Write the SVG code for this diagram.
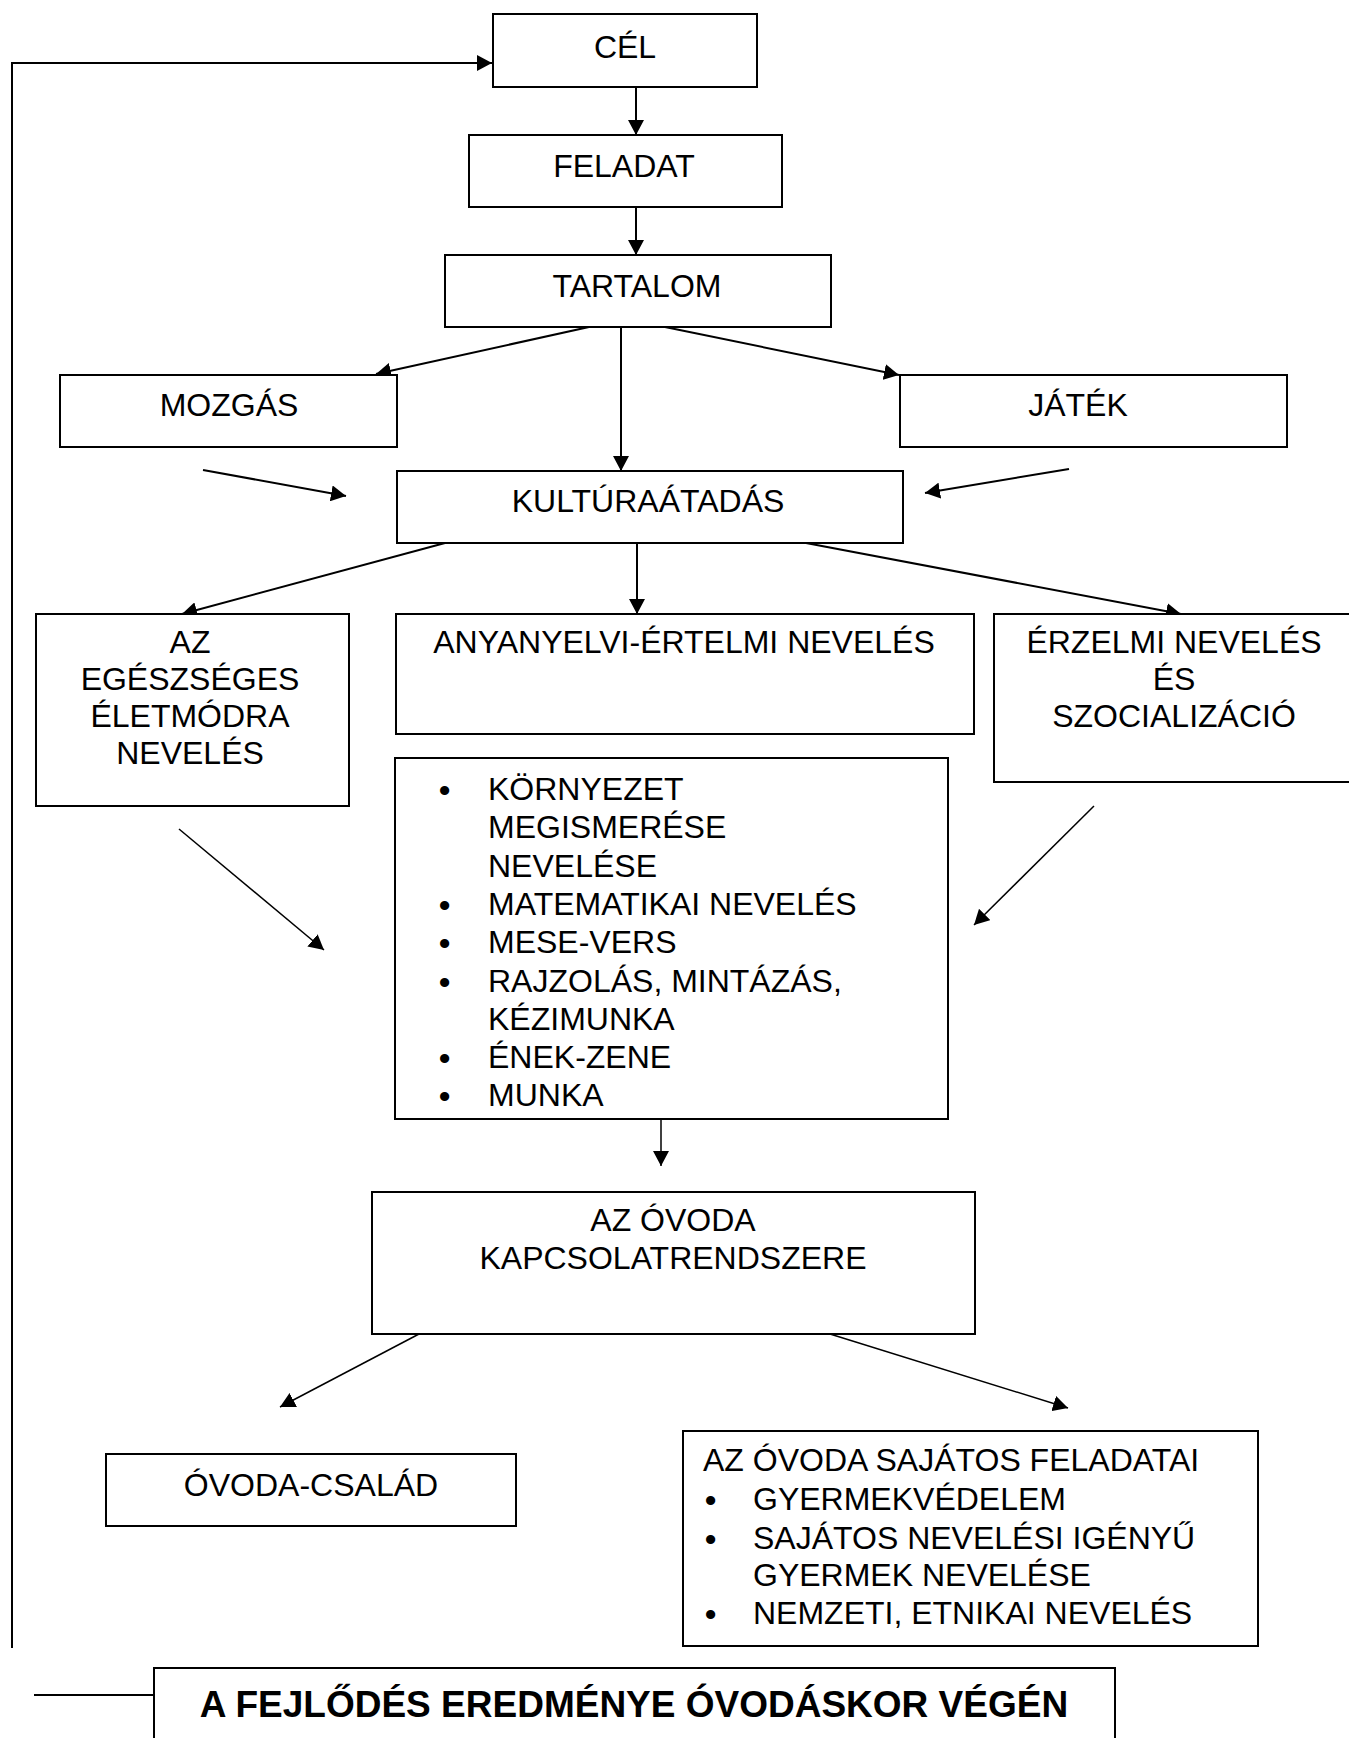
<svg xmlns="http://www.w3.org/2000/svg" width="1349" height="1738" viewBox="0 0 1349 1738">
<style>
.box{fill:#fff;stroke:#000;stroke-width:2}
.t{font-family:"Liberation Sans",Arial,sans-serif;font-size:32px;fill:#000}
.c{text-anchor:middle}
.b{font-weight:bold;font-size:37px}
.bul{font-weight:bold}
.ln{fill:none;stroke:#000;stroke-width:2}
.thin{stroke-width:1.5}
</style>
<defs>
<marker id="ah" markerUnits="userSpaceOnUse" markerWidth="16" markerHeight="16" refX="15" refY="8" orient="auto">
<path d="M0,0 L15,8 L0,16 Z" fill="#000"/>
</marker>
</defs>
<rect width="1349" height="1738" fill="#fff"/>

<g id="connectors">
<polyline class="ln" points="12,1648 12,63 492,63" marker-end="url(#ah)"/>
<line class="ln" x1="636" y1="87" x2="636" y2="135" marker-end="url(#ah)"/>
<line class="ln" x1="636" y1="207" x2="636" y2="255" marker-end="url(#ah)"/>
<line class="ln" x1="589" y1="327" x2="376" y2="374" marker-end="url(#ah)"/>
<line class="ln" x1="621" y1="327" x2="621" y2="471" marker-end="url(#ah)"/>
<line class="ln" x1="665" y1="327" x2="899" y2="375" marker-end="url(#ah)"/>
<line class="ln" x1="203" y1="470" x2="346" y2="496" marker-end="url(#ah)"/>
<line class="ln" x1="1069" y1="469" x2="925" y2="493" marker-end="url(#ah)"/>
<line class="ln" x1="445" y1="543" x2="182" y2="614" marker-end="url(#ah)"/>
<line class="ln" x1="637" y1="543" x2="637" y2="614" marker-end="url(#ah)"/>
<line class="ln" x1="806" y1="543" x2="1181" y2="614" marker-end="url(#ah)"/>
<line class="ln thin" x1="637" y1="712" x2="637" y2="734" marker-end="url(#ah)"/>
<line class="ln thin" x1="179" y1="829" x2="324" y2="950" marker-end="url(#ah)"/>
<line class="ln thin" x1="1094" y1="806" x2="974" y2="925" marker-end="url(#ah)"/>
<line class="ln thin" x1="661" y1="1119" x2="661" y2="1166" marker-end="url(#ah)"/>
<line class="ln thin" x1="419" y1="1334" x2="280" y2="1407" marker-end="url(#ah)"/>
<line class="ln thin" x1="830" y1="1334" x2="1068" y2="1408" marker-end="url(#ah)"/>
<line class="ln" x1="34" y1="1695" x2="154" y2="1695"/>
</g>

<g id="cel">
<rect class="box" x="493" y="14" width="264" height="73"/>
<text class="t c" x="625" y="58">CÉL</text>
</g>
<g id="feladat">
<rect class="box" x="469" y="135" width="313" height="72"/>
<text class="t c" x="624" y="177">FELADAT</text>
</g>
<g id="tartalom">
<rect class="box" x="445" y="255" width="386" height="72"/>
<text class="t c" x="637" y="297">TARTALOM</text>
</g>
<g id="mozgas">
<rect class="box" x="60" y="375" width="337" height="72"/>
<text class="t c" x="229" y="416">MOZGÁS</text>
</g>
<g id="jatek">
<rect class="box" x="900" y="375" width="387" height="72"/>
<text class="t c" x="1078" y="416">JÁTÉK</text>
</g>
<g id="kulturaatadas">
<rect class="box" x="397" y="471" width="506" height="72"/>
<text class="t c" x="648" y="512">KULTÚRAÁTADÁS</text>
</g>
<g id="egeszseges">
<rect class="box" x="36" y="614" width="313" height="192"/>
<text class="t c" x="190" y="653">AZ</text>
<text class="t c" x="190" y="690">EGÉSZSÉGES</text>
<text class="t c" x="190" y="727">ÉLETMÓDRA</text>
<text class="t c" x="190" y="764">NEVELÉS</text>
</g>
<g id="anyanyelvi">
<rect class="box" x="396" y="614" width="578" height="120"/>
<text class="t c" x="684" y="653">ANYANYELVI-ÉRTELMI NEVELÉS</text>
</g>
<g id="erzelmi">
<rect class="box" x="994" y="614" width="370" height="168"/>
<text class="t c" x="1174" y="653">ÉRZELMI NEVELÉS</text>
<text class="t c" x="1174" y="690">ÉS</text>
<text class="t c" x="1174" y="727">SZOCIALIZÁCIÓ</text>
</g>
<g id="teruletek">
<rect class="box" x="395" y="758" width="553" height="361"/>
<g class="t">
<text class="bul" x="439" y="801">•</text><text x="488" y="800">KÖRNYEZET</text>
<text x="488" y="838">MEGISMERÉSE</text>
<text x="488" y="877">NEVELÉSE</text>
<text class="bul" x="439" y="916">•</text><text x="488" y="915">MATEMATIKAI NEVELÉS</text>
<text class="bul" x="439" y="954">•</text><text x="488" y="953">MESE-VERS</text>
<text class="bul" x="439" y="993">•</text><text x="488" y="992">RAJZOLÁS, MINTÁZÁS,</text>
<text x="488" y="1030">KÉZIMUNKA</text>
<text class="bul" x="439" y="1069">•</text><text x="488" y="1068">ÉNEK-ZENE</text>
<text class="bul" x="439" y="1107">•</text><text x="488" y="1106">MUNKA</text>
</g>
</g>
<g id="kapcsolatrendszer">
<rect class="box" x="372" y="1192" width="603" height="142"/>
<text class="t c" x="673" y="1231">AZ ÓVODA</text>
<text class="t c" x="673" y="1269">KAPCSOLATRENDSZERE</text>
</g>
<g id="ovoda-csalad">
<rect class="box" x="106" y="1454" width="410" height="72"/>
<text class="t c" x="311" y="1496">ÓVODA-CSALÁD</text>
</g>
<g id="sajatos">
<rect class="box" x="683" y="1431" width="575" height="215"/>
<g class="t">
<text x="703" y="1471">AZ ÓVODA SAJÁTOS FELADATAI</text>
<text class="bul" x="705" y="1511">•</text><text x="753" y="1510">GYERMEKVÉDELEM</text>
<text class="bul" x="705" y="1550">•</text><text x="753" y="1549">SAJÁTOS NEVELÉSI IGÉNYŰ</text>
<text x="753" y="1586">GYERMEK NEVELÉSE</text>
<text class="bul" x="705" y="1625">•</text><text x="753" y="1624">NEMZETI, ETNIKAI NEVELÉS</text>
</g>
</g>
<g id="eredmeny">
<rect class="box" x="154" y="1668" width="961" height="93"/>
<text class="t c b" x="634" y="1717">A FEJLŐDÉS EREDMÉNYE ÓVODÁSKOR VÉGÉN</text>
</g>
</svg>
